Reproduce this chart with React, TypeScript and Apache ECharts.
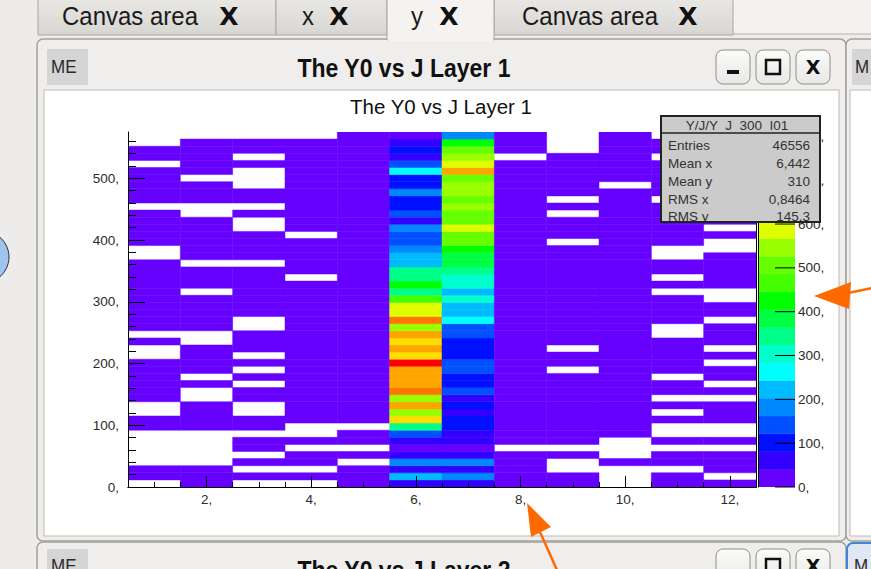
import React, { useEffect, useRef } from 'react';
import * as echarts from 'echarts';

// ---------- data ----------
const Y_BIN = 11.5; // y bin width (50 bins)
const Y_MAX = 575;
const X_MIN = 0.5;
const X_MAX = 12.5;
const Z_MAX = 810; // colour scale top

// ROOT-like palette (20 contour levels)
const PALETTE = [
  '#6600ff', '#3300ff', '#0010ff', '#0050ff', '#0088ff',
  '#00bbff', '#00ffff', '#00ffcc', '#00ff88', '#00ff44',
  '#00ff00', '#44ff00', '#66ff00', '#99ff00', '#ddff00',
  '#ffdd00', '#ffa500', '#ff7700', '#ff4400', '#ff0000',
];

// bin contents per J column, y bins listed from bottom (y=0) to top; 0 = empty
const J1 = [0,20,20,0,0,0,0,0,20,20, 0,0,20,20,20,20,20,20,0,0, 20,0,20,20,20,20,20,20,20,20, 20,20,0,0,20,20,20,20,20,0, 20,20,20,20,20,0,20,20,0,0];
const J2 = [20,20,20,0,0,0,0,0,20,20, 20,20,0,0,20,0,20,20,20,20, 0,0,20,20,20,20,20,0,20,20, 20,0,20,20,20,20,20,20,0,0, 20,20,20,0,20,20,20,20,20,0];
const J3 = [0,20,0,20,0,20,20,0,20,20, 0,0,20,20,0,20,0,20,0,20, 20,20,0,0,20,20,20,20,20,20, 20,0,20,20,20,20,0,0,20,0, 20,20,0,0,0,20,0,20,20,0];
const J4 = [0,20,0,20,20,0,20,0,0,20, 20,20,20,20,20,20,20,20,20,20, 20,20,20,20,20,20,20,20,20,0, 20,20,20,20,20,0,20,20,20,20, 20,20,20,20,20,20,20,20,20,0];
const J5 = [25,25,25,0,25,0,25,25,0,25, 25,25,25,25,25,25,25,25,25,25, 25,25,25,25,25,25,25,25,25,25, 25,25,25,25,25,25,25,25,25,25, 25,25,25,25,25,25,25,25,25,25];
const J6 = [60,215,60,175,55,30,60,130,340,630, 550,655,545,715,670,660,675,798,620,662, 628,668,545,710,595,590,465,345,425,350, 345,225,220,190,150,145,185,78,140,110, 100,180,105,100,265,140,65,100,60,25];
const J7 = [60,170,65,175,50,30,55,70,95,100, 75,100,75,130,105,100,140,135,95,105, 100,130,135,265,220,230,300,225,305,300, 340,370,385,420,510,500,585,495,505,550, 500,540,545,510,665,590,545,505,425,180];
const J8 = [25,25,25,25,25,0,25,25,25,25, 25,25,25,25,25,25,25,25,25,25, 25,25,25,25,25,25,25,25,25,25, 25,25,25,25,25,25,25,25,25,25, 25,25,25,25,25,25,0,25,25,25];
const J9 = [20,20,0,0,20,0,20,20,20,20, 20,20,20,20,20,20,0,20,20,0, 20,20,20,20,20,20,20,20,20,20, 20,20,20,20,0,20,20,20,0,20, 0,20,20,20,20,20,20,0,0,0];
const J10 = [0,0,0,20,0,0,0,20,20,20, 20,20,20,20,20,20,20,20,20,20, 20,20,20,20,20,20,20,20,20,20, 20,20,20,20,20,20,20,20,20,20, 20,20,0,20,20,20,20,20,20,20];
const J11 = [20,20,0,20,20,0,20,0,0,20, 0,20,0,20,20,0,20,20,20,20, 20,0,0,20,20,20,20,0,20,0, 20,20,0,0,20,20,20,20,20,20, 0,20,20,20,20,20,0,20,20,0];
const J12 = [20,0,20,20,20,0,20,0,0,20, 20,20,0,20,0,20,20,0,20,0, 20,20,20,0,20,20,0,0,20,20, 20,20,20,0,0,20,0,20,20,20, 20,20,20,20,20,20,20,20,20,20];
const COLUMNS = [J1, J2, J3, J4, J5, J6, J7, J8, J9, J10, J11, J12];

const X_MAJOR = [2, 4, 6, 8, 10, 12];
const X_MINOR = [1, 1.5, 2.5, 3, 3.5, 4.5, 5, 5.5, 6.5, 7, 7.5, 8.5, 9, 9.5, 10.5, 11, 11.5, 12];
const Y_MAJOR = [0, 100, 200, 300, 400, 500];
const Y_MINOR = [20, 40, 60, 80, 120, 140, 160, 180, 220, 240, 260, 280, 320, 340, 360, 380, 420, 440, 460, 480, 520, 540, 560];
const Z_TICKS = [0, 100, 200, 300, 400, 500, 600, 700, 800];

const STATS_TITLE = 'Y/J/Y  J  300  I01';
const STATS_NAMES = ['Entries', 'Mean x', 'Mean y', 'RMS x', 'RMS y'];
const STATS_VALUES = ['46556', '6,442', '310', '0,8464', '145,3'];

const CHART_TITLE = 'The Y0 vs J Layer 1';
const WINDOW_TITLE = 'The Y0 vs J Layer 1';
const NEXT_WINDOW_TITLE = 'The Y0 vs J Layer 2';
const TAB_NAMES = ['Canvas area', 'x', 'y', 'Canvas area'];

const SANS = '"Liberation Sans", Arial, Helvetica, sans-serif';

function txt(x: number, y: number, text: string, size: number, opts: any = {}) {
  const align = opts.align || 'left';
  const valign = opts.valign || 'middle';
  return {
    type: 'text',
    x, y,
    z: opts.z ?? 5,
    scaleX: opts.scaleX ?? 1,
    scaleY: opts.scaleY ?? 1,
    style: {
      text,
      fill: opts.color || '#111',
      fontSize: size,
      fontWeight: opts.weight || 'normal',
      fontFamily: opts.family || SANS,
      align, verticalAlign: valign,
      textAlign: align, textVerticalAlign: valign,
    },
  };
}

function buildChrome(): any[] {
  const g: any[] = [];
  const tabGrad = { type: 'linear', x: 0, y: 0, x2: 0, y2: 1, colorStops: [{ offset: 0, color: '#ebe9e6' }, { offset: 1, color: '#d8d6d2' }] };
  const btnGrad = { type: 'linear', x: 0, y: 0, x2: 0, y2: 1, colorStops: [{ offset: 0, color: '#fbfbfa' }, { offset: 1, color: '#e9e8e6' }] };
  g.push({ type: 'rect', z: 0, shape: { x: 0, y: 0, width: 871, height: 569 }, style: { fill: '#edecea' } });
  g.push({ type: 'rect', z: 0, shape: { x: 733, y: 0, width: 138, height: 34 }, style: { fill: '#f3f2f0' } });
  g.push({ type: 'line', z: 0, shape: { x1: 733, y1: 34, x2: 871, y2: 34 }, style: { stroke: '#b3b1ac', lineWidth: 1 } });
  const tabs = [
    { x: 38, w: 238, label: TAB_NAMES[0], tx: 62, cx: 229 },
    { x: 276, w: 111, label: TAB_NAMES[1], tx: 302, cx: 339 },
    { x: 494, w: 239, label: TAB_NAMES[3], tx: 522, cx: 688 },
  ];
  tabs.forEach((t) => {
    g.push({ type: 'rect', z: 0, shape: { x: t.x, y: -4, width: t.w, height: 39 }, style: { fill: tabGrad, stroke: '#a8a6a1', lineWidth: 1 } });
  });
  // main window frame
  g.push({ type: 'rect', z: 0, shape: { x: 37, y: 39, width: 809, height: 502, r: 6 }, style: { fill: '#efeeec', stroke: '#a3a19c', lineWidth: 1.5 } });
  g.push({ type: 'rect', z: 0, shape: { x: 44, y: 90, width: 795, height: 446 }, style: { fill: '#ffffff', stroke: '#bdbbb6', lineWidth: 1 } });
  // selected tab
  g.push({ type: 'rect', z: 0, shape: { x: 387, y: -4, width: 107, height: 44 }, style: { fill: '#f4f3f1', stroke: '#a8a6a1', lineWidth: 1 } });
  g.push({ type: 'rect', z: 0, shape: { x: 388, y: 35, width: 105, height: 6 }, style: { fill: '#f4f3f1' } });
  tabs.forEach((t) => {
    g.push(txt(t.tx, 16, t.label, 24, { color: '#1a1a1a', scaleY: 1.1 }));
    g.push(txt(t.cx, 16, 'X', 25, { weight: 'bold', family: '"DejaVu Sans", sans-serif', color: '#111', align: 'center' }));
  });
  g.push(txt(411, 16, TAB_NAMES[2], 24, { color: '#1a1a1a', scaleY: 1.1 }));
  g.push(txt(449, 16, 'X', 25, { weight: 'bold', family: '"DejaVu Sans", sans-serif', color: '#111', align: 'center' }));

  // title bar
  g.push({ type: 'rect', z: 0, shape: { x: 47, y: 49, width: 41, height: 36 }, style: { fill: '#d5d5d5' } });
  g.push(txt(51, 67, 'ME', 17, { color: '#2a2a2a', scaleY: 1.1 }));
  g.push(txt(404, 68, WINDOW_TITLE, 23, { weight: 'bold', align: 'center', scaleY: 1.1, color: '#111' }));
  [716, 756, 796].forEach((bx, i) => {
    g.push({ type: 'rect', z: 0, shape: { x: bx, y: 50, width: 34, height: 34, r: 7 }, style: { fill: btnGrad, stroke: '#8f8d89', lineWidth: 1 } });
    if (i === 0) g.push({ type: 'rect', z: 1, shape: { x: 727, y: 70, width: 12, height: 4 }, style: { fill: '#111' } });
    if (i === 1) g.push({ type: 'rect', z: 1, shape: { x: 766, y: 60, width: 14, height: 14 }, style: { fill: 'none', stroke: '#111', lineWidth: 2.5 } });
    if (i === 2) g.push(txt(813, 67, 'X', 19, { weight: 'bold', family: '"DejaVu Sans", sans-serif', align: 'center', color: '#111' }));
  });

  // right neighbour window
  g.push({ type: 'rect', z: 0, shape: { x: 846, y: 39, width: 40, height: 502, r: 6 }, style: { fill: '#efeeec', stroke: '#a3a19c', lineWidth: 1.5 } });
  g.push({ type: 'rect', z: 0, shape: { x: 850, y: 90, width: 30, height: 446 }, style: { fill: '#ffffff', stroke: '#bdbbb6', lineWidth: 1 } });
  g.push({ type: 'rect', z: 0, shape: { x: 852, y: 49, width: 25, height: 36 }, style: { fill: '#d5d5d5' } });
  g.push(txt(855, 67, 'M', 17, { color: '#2a2a2a', scaleY: 1.1 }));

  // bottom neighbour window
  g.push({ type: 'rect', z: 0, shape: { x: 37, y: 542, width: 809, height: 50, r: 6 }, style: { fill: '#efeeec', stroke: '#a3a19c', lineWidth: 1.5 } });
  g.push({ type: 'rect', z: 0, shape: { x: 47, y: 549, width: 41, height: 30 }, style: { fill: '#d5d5d5' } });
  g.push(txt(51, 566, 'ME', 17, { color: '#2a2a2a', scaleY: 1.1 }));
  g.push(txt(404, 570, NEXT_WINDOW_TITLE, 23, { weight: 'bold', align: 'center', scaleY: 1.1, color: '#111' }));
  [716, 756, 796].forEach((bx, i) => {
    g.push({ type: 'rect', z: 0, shape: { x: bx, y: 549, width: 34, height: 34, r: 7 }, style: { fill: btnGrad, stroke: '#8f8d89', lineWidth: 1 } });
    if (i === 1) g.push({ type: 'rect', z: 1, shape: { x: 766, y: 559, width: 14, height: 14 }, style: { fill: 'none', stroke: '#111', lineWidth: 2.5 } });
    if (i === 2) g.push(txt(813, 566, 'X', 19, { weight: 'bold', family: '"DejaVu Sans", sans-serif', align: 'center', color: '#111' }));
  });
  g.push({ type: 'rect', z: 0, shape: { x: 847, y: 543, width: 34, height: 34, r: 6 }, style: { fill: '#dfe8f3', stroke: '#3f86d6', lineWidth: 2 } });
  g.push(txt(854, 566, 'M', 17, { color: '#2a2a2a', scaleY: 1.1 }));

  // blue circle at the left edge
  g.push({ type: 'circle', z: 1, shape: { cx: -17, cy: 257, r: 26 }, style: { fill: '#9fc5ee', stroke: '#333', lineWidth: 1 } });

  // canvas title
  g.push(txt(441, 106, CHART_TITLE, 20.5, { align: 'center', color: '#111' }));

  // statistics box
  g.push({ type: 'rect', z: 50, shape: { x: 661, y: 116, width: 159, height: 106 }, style: { fill: '#cbcbcb', stroke: 'none' } });
  g.push(txt(737, 125, STATS_TITLE, 13.5, { align: 'center', color: '#333', z: 51 }));
  STATS_NAMES.forEach((n, i) => {
    const yy = 145 + i * 18 - (i === 4 ? 1 : 0);
    g.push(txt(668, yy, n, 13.5, { color: '#333', z: 51 }));
    g.push(txt(810, yy, STATS_VALUES[i], 13.5, { color: '#333', align: 'right', z: 51 }));
  });
  g.push({ type: 'line', z: 52, shape: { x1: 661, y1: 133, x2: 820, y2: 133 }, style: { stroke: '#222', lineWidth: 1.5 } });
  g.push({ type: 'rect', z: 52, shape: { x: 661, y: 116, width: 159, height: 106 }, style: { fill: 'none', stroke: '#222', lineWidth: 2 } });

  // orange arrows
  const orange = '#ff6a00';
  g.push({ type: 'line', z: 60, shape: { x1: 848, y1: 293, x2: 872, y2: 288 }, style: { stroke: orange, lineWidth: 2.5 } });
  g.push({ type: 'polygon', z: 60, shape: { points: [[814, 296], [851, 282], [849, 309]] }, style: { fill: orange } });
  g.push({ type: 'line', z: 60, shape: { x1: 540, y1: 532, x2: 557, y2: 570 }, style: { stroke: orange, lineWidth: 2.5 } });
  g.push({ type: 'polygon', z: 60, shape: { points: [[527, 503], [551, 527], [531, 537]] }, style: { fill: orange } });
  return g;
}

export default function App() {
  const ref = useRef<HTMLDivElement>(null);
  useEffect(() => {
    if (!ref.current) return;
    const chart = echarts.init(ref.current, undefined, { renderer: 'svg' });

    const cells: number[][] = [];
    COLUMNS.forEach((col, ci) => {
      col.forEach((v, yi) => {
        if (v > 0) cells.push([ci + 1, yi * Y_BIN, (yi + 1) * Y_BIN, v]);
      });
    });
    const step = Z_MAX / PALETTE.length;
    const bands = PALETTE.map((_, i) => [0.5, i * step, (i + 1) * step, (i + 0.5) * step]);

    const axisText = { color: '#2b2b2b', fontSize: 13.5, fontFamily: SANS };
    const black = { color: '#000', width: 1 };
    const plotRect = { left: 128, top: 132, width: 628, height: 355, outerBoundsMode: 'none' };

    const option: any = {
      animation: false,
      backgroundColor: '#edecea',
      graphic: { elements: buildChrome() },
      visualMap: {
        type: 'piecewise',
        show: false,
        dimension: 3,
        seriesIndex: [0, 1],
        pieces: PALETTE.map((c, i) => ({ gte: i * step, lt: (i + 1) * step, color: c })),
      },
      grid: [
        { ...plotRect },
        { ...plotRect },
        { left: 758, top: 132, width: 37, height: 355, outerBoundsMode: 'none' },
      ],
      xAxis: [
        {
          gridIndex: 0, type: 'value', min: X_MIN, max: X_MAX, position: 'bottom', z: 10,
          axisLine: { show: true, lineStyle: black },
          axisTick: { show: true, inside: true, length: 11, customValues: X_MAJOR, lineStyle: black },
          axisLabel: { show: true, customValues: X_MAJOR, formatter: (v: number) => v + ',', margin: 5, ...axisText },
          splitLine: { show: false },
        },
        {
          gridIndex: 1, type: 'value', min: X_MIN, max: X_MAX, position: 'bottom', z: 10,
          axisLine: { show: false },
          axisTick: { show: true, inside: true, length: 5, customValues: X_MINOR, lineStyle: black },
          axisLabel: { show: false },
          splitLine: { show: false },
        },
        {
          gridIndex: 1, type: 'value', min: X_MIN, max: X_MAX, position: 'top', z: 10,
          axisLine: { show: true, lineStyle: black },
          axisTick: { show: false }, axisLabel: { show: false }, splitLine: { show: false },
        },
        { gridIndex: 2, type: 'value', min: 0, max: 1, show: false },
      ],
      yAxis: [
        {
          gridIndex: 0, type: 'value', min: 0, max: Y_MAX, position: 'left', z: 10,
          axisLine: { show: true, lineStyle: black },
          axisTick: { show: true, inside: true, length: 17, customValues: Y_MAJOR, lineStyle: black },
          axisLabel: { show: true, customValues: Y_MAJOR, formatter: (v: number) => v + ',', margin: 9, ...axisText },
          splitLine: { show: false },
        },
        {
          gridIndex: 1, type: 'value', min: 0, max: Y_MAX, position: 'left', z: 10,
          axisLine: { show: false },
          axisTick: { show: true, inside: true, length: 8, customValues: Y_MINOR, lineStyle: black },
          axisLabel: { show: false }, splitLine: { show: false },
        },
        {
          gridIndex: 1, type: 'value', min: 0, max: Y_MAX, position: 'right', z: 10,
          axisLine: { show: true, lineStyle: black },
          axisTick: { show: false }, axisLabel: { show: false }, splitLine: { show: false },
        },
        {
          gridIndex: 2, type: 'value', min: 0, max: Z_MAX, position: 'right', z: 10,
          axisLine: { show: true, lineStyle: black },
          axisTick: { show: false },
          axisLabel: { show: true, customValues: Z_TICKS, formatter: (v: number) => v + ',', margin: 3, ...axisText },
          splitLine: { show: false },
        },
      ],
      series: [
        {
          type: 'custom',
          xAxisIndex: 0, yAxisIndex: 0,
          clip: true,
          encode: { x: 0, y: [1, 2] },
          data: cells,
          renderItem: (params: any, api: any) => {
            const x = api.value(0);
            const p0 = api.coord([x - 0.5, api.value(2)]);
            const p1 = api.coord([x + 0.5, api.value(1)]);
            const c = api.visual('color');
            return {
              type: 'rect',
              shape: { x: p0[0], y: p0[1], width: p1[0] - p0[0], height: p1[1] - p0[1] },
              style: { fill: c, stroke: c, lineWidth: 0.5 },
            };
          },
        },
        {
          type: 'custom',
          xAxisIndex: 3, yAxisIndex: 3,
          clip: true,
          encode: { x: 0, y: [1, 2] },
          data: bands,
          renderItem: (params: any, api: any) => {
            const p0 = api.coord([0, api.value(2)]);
            const p1 = api.coord([1, api.value(1)]);
            const c = api.visual('color');
            return {
              type: 'rect',
              shape: { x: p0[0], y: p0[1], width: p1[0] - p0[0], height: p1[1] - p0[1] },
              style: { fill: c, stroke: c, lineWidth: 0.5 },
            };
          },
        },
        {
          // colour-scale tick marks, drawn inward from the palette's right edge
          type: 'custom',
          xAxisIndex: 3, yAxisIndex: 3,
          z: 5,
          clip: false,
          encode: { y: 0 },
          data: Z_TICKS.map((v) => [v]),
          renderItem: (params: any, api: any) => {
            const v = api.value(0);
            const a = api.coord([0.46, v]);
            const b = api.coord([1, v]);
            return {
              type: 'line',
              shape: { x1: a[0], y1: a[1], x2: b[0], y2: b[1] },
              style: { stroke: '#000', lineWidth: 1 },
            };
          },
        },
      ],
    };
    chart.setOption(option);
    return () => chart.dispose();
  }, []);
  return (
    <div
      ref={ref}
      style={{ position: 'fixed', left: 0, top: 0, width: 871, height: 569 }}
    />
  );
}
